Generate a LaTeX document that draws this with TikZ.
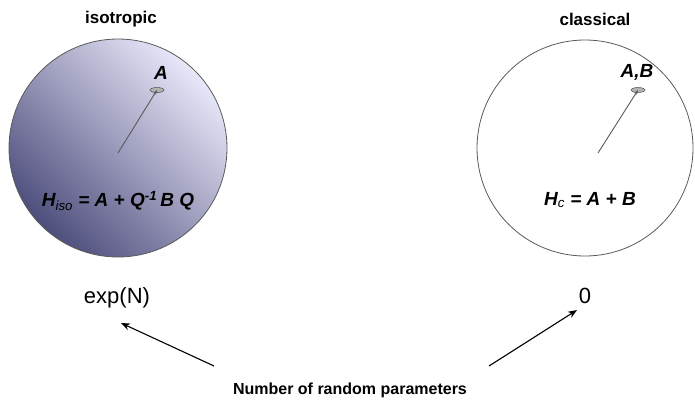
\documentclass[tikz,border=0pt]{standalone}
\usepackage{fontspec}
\setmainfont{Liberation Sans}
\usetikzlibrary{arrows.meta,shapes.geometric}
\definecolor{darkb}{RGB}{78,78,125}
\definecolor{lightb}{RGB}{232,232,250}
\definecolor{rimgray}{RGB}{90,90,90}
\tikzset{
  title/.style={font=\fontsize{17}{20}\selectfont\bfseries},
  formula/.style={font=\fontsize{19}{22}\selectfont\bfseries\itshape},
  bottomlbl/.style={font=\fontsize{22}{26}\selectfont},
  innerarrow/.style={draw=rimgray, line width=0.9pt, -{Stealth[length=5pt,width=3.5pt]}},
  spot/.style={draw=black!70, fill=gray!60, ellipse, line width=0.5pt, minimum width=14pt, minimum height=5pt, inner sep=0pt},
  outerarrow/.style={draw=black, line width=1.1pt, -{Stealth[length=9pt,width=7pt]}}
}
\begin{document}
\begin{tikzpicture}[x=1pt,y=-1pt]
\useasboundingbox (0,0) rectangle (695,399);
% left sphere
\shade[top color=lightb, bottom color=darkb, shading angle=-45] (118,148) circle (109);
\draw[rimgray, line width=0.8pt] (118,148) circle (109);
\node[title] (t1) at (121,19) {isotropic};
\coordinate (c1) at (118,153);
\node[spot] (e1) at (157,90) {};
\node[formula] (a1) at (161,73) {A};
\draw[innerarrow] (c1) -- (e1.center);
\node[formula] (h1) at (118,201) {H\textsubscript{\normalfont\itshape iso} = A + Q\textsuperscript{-1}\,B Q};
% right sphere
\draw[rimgray, line width=0.8pt] (585,148) circle (108);
\node[title] (t2) at (595,19) {classical};
\coordinate (c2) at (598,153);
\node[spot] (e2) at (638,90) {};
\node[formula] (a2) at (637,72) {A,B};
\draw[innerarrow] (c2) -- (e2.center);
\node[formula] (h2) at (590,200) {H\textsubscript{\normalfont\itshape c} = A + B};
% bottom
\node[bottomlbl] (exp) at (117,298) {exp(N)};
\node[bottomlbl] (zero) at (585,296) {0};
\node[font=\fontsize{16}{18}\selectfont\bfseries] (num) at (350,390) {Number of random parameters};
\coordinate (s1) at (214,366);
\coordinate (s2) at (489,366);
\draw[outerarrow] (s1) -- (121,323);
\draw[outerarrow] (s2) -- (577,310);
\end{tikzpicture}
\end{document}
